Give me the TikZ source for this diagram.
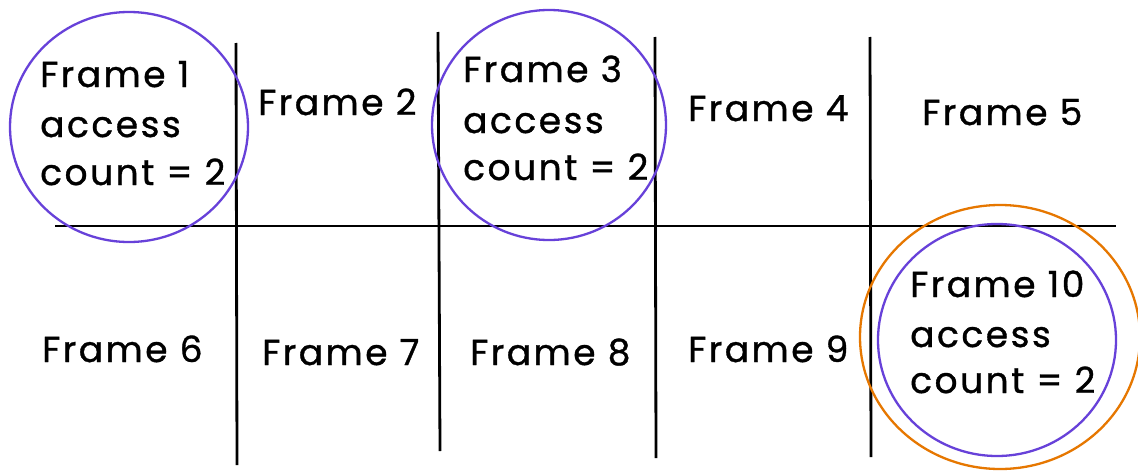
\documentclass[tikz,border=0pt]{standalone}
\usepackage{fontspec}
\setmainfont{Poppins}
\newfontfamily\handfont[LetterSpace=7,FakeBold=1]{Poppins}
\definecolor{violetline}{HTML}{6741D9}
\definecolor{orangeline}{HTML}{E67700}
\begin{document}
\begin{tikzpicture}[x=1pt,y=-1pt,
  grid/.style={line width=2.8pt,black},
  ring/.style={line width=2.3pt,violetline},
  ringorange/.style={line width=2.3pt,orangeline},
  lbl/.style={anchor=base west,inner sep=0pt,font=\handfont\fontsize{36}{40}\selectfont}]
\useasboundingbox[fill=white] (0,0) rectangle (1138,471);
% grid lines
\coordinate (hl) at (55,226);
\coordinate (hr) at (1116,226);
\coordinate (v1t) at (236,43);  \coordinate (v1b) at (237,465);
\coordinate (v2t) at (438,32);  \coordinate (v2b) at (440,451);
\coordinate (v3t) at (655,37);  \coordinate (v3b) at (656,458);
\coordinate (v4t) at (870,37);  \coordinate (v4b) at (871,457);
\draw[grid] (hl) -- (hr);
\draw[grid] (v1t) -- (v1b);
\draw[grid] (v2t) -- (v2b);
\draw[grid] (v3t) -- (v3b);
\draw[grid] (v4t) -- (v4b);
% labels
\node[lbl] (f1a) at (40,87) {Frame 1};
\node[lbl] (f1b) at (40,137) {access};
\node[lbl] (f1c) at (40,185) {count = 2};
\node[lbl] (f2) at (258,115) {Frame 2};
\node[lbl] (f3a) at (463,82) {Frame 3};
\node[lbl] (f3b) at (463,133) {access};
\node[lbl] (f3c) at (463,180) {count = 2};
\node[lbl] (f4) at (688,121) {Frame 4};
\node[lbl] (f5) at (922,125) {Frame 5};
\node[lbl] (f6) at (42,362) {Frame 6};
\node[lbl] (f7) at (262,365) {Frame 7};
\node[lbl] (f8) at (470,365) {Frame 8};
\node[lbl] (f9) at (688,362) {Frame 9};
\node[lbl] (f10a) at (910,297) {Frame 10};
\node[lbl] (f10b) at (910,347) {access};
\node[lbl] (f10c) at (910,393) {count = 2};
% circles
\coordinate (c1) at (129,127);
\coordinate (c3) at (549,125);
\coordinate (c10o) at (1000,337);
\coordinate (c10v) at (997,340);
\draw[ring] (c1) ellipse [x radius=119, y radius=115];
\draw[ring] (c3) ellipse [x radius=117, y radius=115];
\draw[ringorange] (c10o) ellipse [x radius=140, y radius=132];
\draw[ring] (c10v) ellipse [x radius=119, y radius=116];
\end{tikzpicture}
\end{document}
